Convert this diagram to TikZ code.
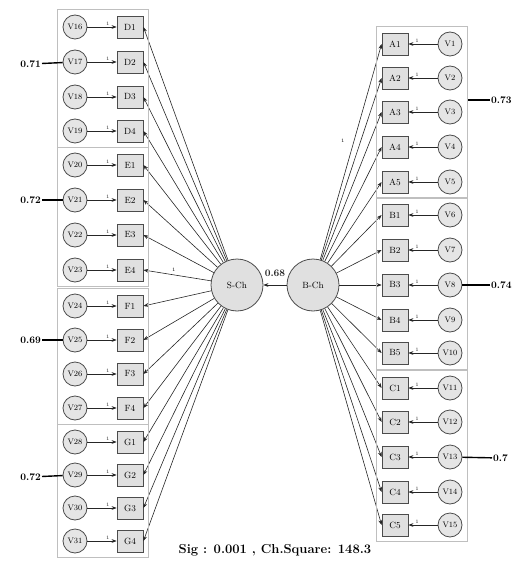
\documentclass[tikz,border=0pt]{standalone}
\usepackage{amsmath,amssymb}
\usepackage{xcolor}
\usepackage{tikz}
\usetikzlibrary{arrows.meta, positioning, calc, fit}

\begin{document}
\begin{tikzpicture}[
    x=1pt, y=-1pt,
    obs/.style={
      rectangle, draw=black!70, thick,
      fill=black!12,
      minimum width=26pt, minimum height=22pt,
      font=\small, inner sep=1pt
    },
    err/.style={
      circle, draw=black!70, thick,
      fill=black!10,
      minimum size=24pt, inner sep=0pt,
      font=\footnotesize
    },
    lat/.style={
      circle, draw=black!70, thick,
      fill=black!12,
      minimum size=52pt, inner sep=0pt,
      font=\small
    },
    grp/.style={draw=black!25, thick, inner sep=5pt},
    arr/.style={-{Stealth[length=5pt]}, semithick, color=black!85},
    fix/.style={font=\tiny, above, inner sep=1pt, pos=0.7},
    load/.style={font=\fontsize{10}{11}\selectfont\bfseries, inner sep=1pt},
    lline/.style={line width=1.4pt}
  ]
    \useasboundingbox (0,0) rectangle (526,564);

    % latent variables
    \node[lat] (sch) at (237,285) {S-Ch};
    \node[lat] (bch) at (313,285) {B-Ch};
    \draw[arr] (bch) -- node[load, above=7pt] {0.68} (sch);

    % left side indicators
    \foreach \n/\v/\y in {D1/16/27, D2/17/62, D3/18/97, D4/19/131,
                          E1/20/165, E2/21/200, E3/22/235, E4/23/270,
                          F1/24/306, F2/25/340, F3/26/374, F4/27/408,
                          G1/28/442, G2/29/475, G3/30/508, G4/31/541} {
      \node[err] (v\v) at (75,\y) {V\v};
      \node[obs] (\n) at (130,\y) {\n};
      \draw[arr] (v\v) -- node[fix] {1} (\n);
      \draw[arr] (sch) -- (\n.east);
    }

    % right side indicators
    \foreach \n/\v/\y in {A1/1/44, A2/2/78, A3/3/112, A4/4/147, A5/5/182,
                          B1/6/215, B2/7/250, B3/8/285, B4/9/320, B5/10/353,
                          C1/11/388, C2/12/422, C3/13/457, C4/14/492, C5/15/525} {
      \node[err] (v\v) at (450,\y) {V\v};
      \node[obs] (\n) at (395,\y) {\n};
      \draw[arr] (v\v) -- node[fix] {1} (\n);
      \draw[arr] (bch) -- (\n.west);
    }

    % fixed paths
    \path (sch) -- node[font=\tiny, pos=0.55, above] {1} (E4.east);
    \path (bch) -- node[font=\tiny, pos=0.55, left=6pt] {1} (A1.west);

    % groups
    \node[grp, fit=(v16)(D1)(D4)] (grpD) {};
    \node[grp, fit=(v20)(E1)(E4)] (grpE) {};
    \node[grp, fit=(v24)(F1)(F4)] (grpF) {};
    \node[grp, fit=(v28)(G1)(G4)] (grpG) {};
    \node[grp, fit=(v1)(A1)(A5)] (grpA) {};
    \node[grp, fit=(v6)(B1)(B5)] (grpB) {};
    \node[grp, fit=(v11)(C1)(C5)] (grpC) {};

    % group loadings
    \node[load, anchor=east] (ldD) at (42,64) {0.71};
    \node[load, anchor=east] (ldE) at (42,200) {0.72};
    \node[load, anchor=east] (ldF) at (42,340) {0.69};
    \node[load, anchor=east] (ldG) at (42,477) {0.72};
    \node[load, anchor=west] (ldA) at (490,100) {0.73};
    \node[load, anchor=west] (ldB) at (490,285) {0.74};
    \node[load, anchor=west] (ldC) at (492,458) {0.7};
    \draw[lline] (ldD) -- (v17);
    \draw[lline] (ldE) -- (v21);
    \draw[lline] (ldF) -- (v25);
    \draw[lline] (ldG) -- (v29);
    \draw[lline] (ldA) -- (ldA -| grpA.east);
    \draw[lline] (ldB) -- (v8);
    \draw[lline] (ldC) -- (v13);

    \node[font=\fontsize{13}{15}\selectfont\bfseries] (fit) at (275,550)
      {Sig : 0.001 , Ch.Square: 148.3};
  \end{tikzpicture}
\end{document}
